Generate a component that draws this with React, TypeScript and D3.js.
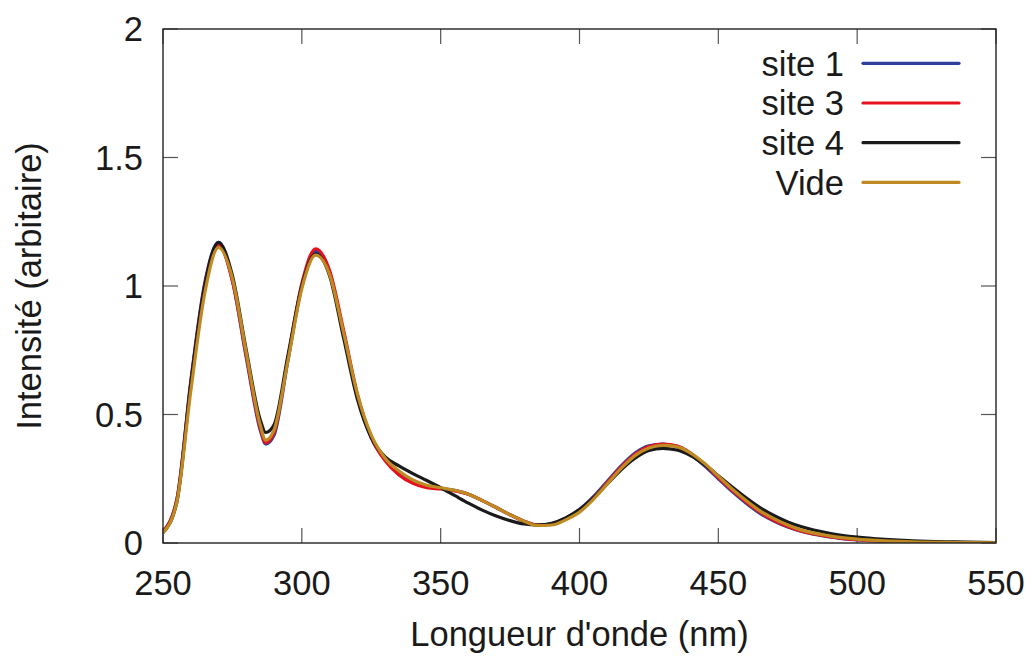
import React from "react";
import * as d3 from "d3";

const wavelengths = [250,255,260,265,270,275,280,285,287,290,295,300,305,310,315,320,325,330,335,340,345,350,355,360,365,370,375,380,385,390,395,400,405,410,415,420,425,430,435,440,445,450,455,460,465,470,475,480,490,500,510,520,535,550];

const site1 = [0.045,0.17,0.63,1.01,1.17,1.02,0.72,0.44,0.385,0.42,0.71,1.0,1.135,1.05,0.82,0.57,0.41,0.325,0.275,0.24,0.222,0.213,0.205,0.19,0.165,0.138,0.11,0.085,0.07,0.075,0.097,0.13,0.18,0.24,0.30,0.35,0.378,0.385,0.375,0.345,0.30,0.25,0.2,0.155,0.115,0.085,0.062,0.045,0.024,0.012,0.006,0.003,0.001,0.0];
const site3 = [0.045,0.17,0.62,1.0,1.16,1.02,0.73,0.45,0.39,0.43,0.72,1.01,1.145,1.06,0.83,0.58,0.41,0.32,0.265,0.232,0.215,0.21,0.203,0.19,0.165,0.138,0.11,0.085,0.07,0.073,0.093,0.125,0.175,0.235,0.295,0.345,0.375,0.385,0.378,0.35,0.305,0.255,0.205,0.16,0.12,0.088,0.064,0.046,0.025,0.013,0.007,0.003,0.001,0.0];
const site4 = [0.04,0.16,0.62,1.0,1.17,1.04,0.75,0.48,0.43,0.46,0.73,1.0,1.125,1.04,0.80,0.56,0.41,0.335,0.30,0.27,0.243,0.215,0.185,0.155,0.128,0.105,0.087,0.074,0.07,0.077,0.098,0.13,0.175,0.23,0.285,0.33,0.36,0.368,0.362,0.34,0.305,0.262,0.218,0.176,0.138,0.107,0.082,0.063,0.038,0.023,0.014,0.008,0.004,0.002];
const vide = [0.04,0.16,0.59,0.97,1.15,1.03,0.74,0.46,0.40,0.44,0.71,0.99,1.12,1.045,0.82,0.58,0.42,0.33,0.28,0.245,0.225,0.215,0.205,0.19,0.165,0.138,0.11,0.085,0.068,0.07,0.09,0.12,0.17,0.23,0.29,0.34,0.37,0.38,0.375,0.35,0.31,0.26,0.21,0.165,0.125,0.095,0.07,0.05,0.028,0.015,0.008,0.004,0.002,0.001];

const seriesNames = ["site 1", "site 3", "site 4", "Vide"];
const seriesValues = [site1, site3, site4, vide];
const seriesColors = ["#2f3f9a", "#e8101e", "#1a1a1a", "#bf8a22"];

const xTicks = [250, 300, 350, 400, 450, 500, 550];
const yTicks = [0, 0.5, 1, 1.5, 2];
const yTickLabels = ["0", "0.5", "1", "1.5", "2"];

const W = 1033, H = 662;
const left = 163, right = 996, top = 29, bottom = 543;
const font = "'Liberation Sans', Arial, sans-serif";
const fs = 34.5;
const tickLen = 15;

export default function App() {
  const x = d3.scaleLinear().domain([250, 550]).range([left, right]);
  const y = d3.scaleLinear().domain([0, 2]).range([bottom, top]);
  const line = d3.line<[number, number]>()
    .x(d => x(d[0]))
    .y(d => y(d[1]))
    .curve(d3.curveMonotoneX);

  return (
    <svg width={W} height={H} style={{ position: "absolute", left: 0, top: 0, background: "#fff" }} fontFamily={font}>
      <rect x={0} y={0} width={W} height={H} fill="#fff" />
      <defs>
        <clipPath id="plot"><rect x={left} y={top} width={right - left} height={bottom - top} /></clipPath>
      </defs>
      {xTicks.map(t => (
        <g key={"xt" + t}>
          <line x1={x(t)} x2={x(t)} y1={bottom} y2={bottom - tickLen} stroke="#555" strokeWidth={1.2} />
          <line x1={x(t)} x2={x(t)} y1={top} y2={top + tickLen} stroke="#555" strokeWidth={1.2} />
          <text x={x(t)} y={bottom + 52} textAnchor="middle" fontSize={fs} fill="#1a1a1a">{t}</text>
        </g>
      ))}
      {yTicks.map((t, i) => (
        <g key={"yt" + t}>
          <line x1={left} x2={left + tickLen} y1={y(t)} y2={y(t)} stroke="#555" strokeWidth={1.2} />
          <line x1={right} x2={right - tickLen} y1={y(t)} y2={y(t)} stroke="#555" strokeWidth={1.2} />
          <text x={143} y={y(t) + 12} textAnchor="end" fontSize={fs} fill="#1a1a1a">{yTickLabels[i]}</text>
        </g>
      ))}
      <g clipPath="url(#plot)">
        {seriesValues.map((vals, i) => (
          <path key={seriesNames[i]}
            d={line(wavelengths.map((w, j) => [w, vals[j]] as [number, number])) || ""}
            fill="none" stroke={seriesColors[i]} strokeWidth={3.2} strokeLinejoin="round" />
        ))}
      </g>
      <rect x={left} y={top} width={right - left} height={bottom - top} fill="none" stroke="#222" strokeWidth={1.4} />
      {seriesNames.map((n, i) => {
        const ly = 63.3 + i * 39.7;
        return (
          <g key={"lg" + n}>
            <text x={844} y={ly + 12.3} textAnchor="end" fontSize={fs} fill="#1a1a1a">{n}</text>
            <line x1={863} x2={959} y1={ly} y2={ly} stroke={seriesColors[i]} strokeWidth={3.2} strokeLinecap="round" />
          </g>
        );
      })}
      <text x={(left + right) / 2} y={646} textAnchor="middle" fontSize={fs} fill="#1a1a1a">Longueur d'onde (nm)</text>
      <text transform={`translate(41, ${(top + bottom) / 2}) rotate(-90)`} textAnchor="middle" fontSize={fs} fill="#1a1a1a">Intensité (arbitaire)</text>
    </svg>
  );
}
